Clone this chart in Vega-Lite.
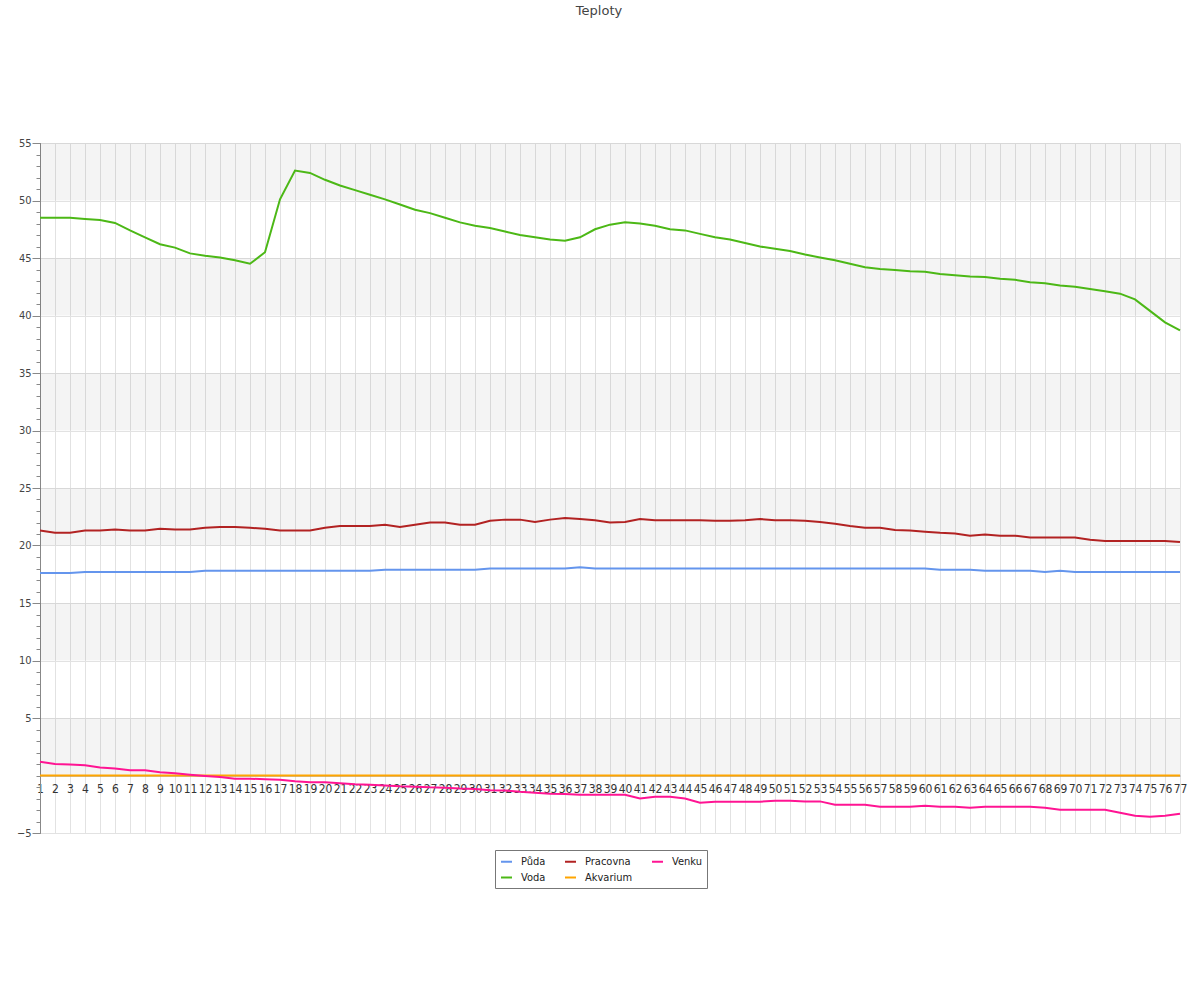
{
  "$schema": "https://vega.github.io/schema/vega-lite/v6.json",
  "width": 1140,
  "height": 690,
  "autosize": {"type": "none"},
  "padding": {"left": 40, "top": 143, "right": 20, "bottom": 167},
  "background": "white",
  "config": {
    "font": "DejaVu Sans",
    "view": {"stroke": null}
  },
  "title": {
    "text": "Teploty",
    "frame": "group",
    "anchor": "middle",
    "fontSize": 13,
    "fontWeight": "normal",
    "color": "#444",
    "offset": 119,
    "dx": -11
  },
  "datasets": {
    "bands": [
      {"lo": 0, "hi": 5},
      {"lo": 10, "hi": 15},
      {"lo": 20, "hi": 25},
      {"lo": 30, "hi": 35},
      {"lo": 40, "hi": 45},
      {"lo": 50, "hi": 55}
    ],
    "temps": [
      {"t": 1, "Půda": 17.6, "Voda": 48.5, "Pracovna": 21.3, "Akvarium": 0, "Venku": 1.2},
      {"t": 2, "Půda": 17.6, "Voda": 48.5, "Pracovna": 21.1, "Akvarium": 0, "Venku": 1.0},
      {"t": 3, "Půda": 17.6, "Voda": 48.5, "Pracovna": 21.1, "Akvarium": 0, "Venku": 0.95},
      {"t": 4, "Půda": 17.7, "Voda": 48.4, "Pracovna": 21.3, "Akvarium": 0, "Venku": 0.9},
      {"t": 5, "Půda": 17.7, "Voda": 48.3, "Pracovna": 21.3, "Akvarium": 0, "Venku": 0.7},
      {"t": 6, "Půda": 17.7, "Voda": 48.05, "Pracovna": 21.4, "Akvarium": 0, "Venku": 0.6},
      {"t": 7, "Půda": 17.7, "Voda": 47.4, "Pracovna": 21.3, "Akvarium": 0, "Venku": 0.45},
      {"t": 8, "Půda": 17.7, "Voda": 46.8, "Pracovna": 21.3, "Akvarium": 0, "Venku": 0.45},
      {"t": 9, "Půda": 17.7, "Voda": 46.2, "Pracovna": 21.45, "Akvarium": 0, "Venku": 0.28},
      {"t": 10, "Půda": 17.7, "Voda": 45.9, "Pracovna": 21.4, "Akvarium": 0, "Venku": 0.2},
      {"t": 11, "Půda": 17.7, "Voda": 45.4, "Pracovna": 21.4, "Akvarium": 0, "Venku": 0.07},
      {"t": 12, "Půda": 17.8, "Voda": 45.2, "Pracovna": 21.55, "Akvarium": 0, "Venku": -0.04},
      {"t": 13, "Půda": 17.8, "Voda": 45.05, "Pracovna": 21.6, "Akvarium": 0, "Venku": -0.13},
      {"t": 14, "Půda": 17.8, "Voda": 44.8, "Pracovna": 21.6, "Akvarium": 0, "Venku": -0.28},
      {"t": 15, "Půda": 17.8, "Voda": 44.5, "Pracovna": 21.55, "Akvarium": 0, "Venku": -0.28},
      {"t": 16, "Půda": 17.8, "Voda": 45.5, "Pracovna": 21.45, "Akvarium": 0, "Venku": -0.33},
      {"t": 17, "Půda": 17.8, "Voda": 50.1, "Pracovna": 21.3, "Akvarium": 0, "Venku": -0.36},
      {"t": 18, "Půda": 17.8, "Voda": 52.6, "Pracovna": 21.3, "Akvarium": 0, "Venku": -0.51},
      {"t": 19, "Půda": 17.8, "Voda": 52.4, "Pracovna": 21.3, "Akvarium": 0, "Venku": -0.59},
      {"t": 20, "Půda": 17.8, "Voda": 51.8, "Pracovna": 21.55, "Akvarium": 0, "Venku": -0.59},
      {"t": 21, "Půda": 17.8, "Voda": 51.3, "Pracovna": 21.7, "Akvarium": 0, "Venku": -0.68},
      {"t": 22, "Půda": 17.8, "Voda": 50.9, "Pracovna": 21.7, "Akvarium": 0, "Venku": -0.77},
      {"t": 23, "Půda": 17.8, "Voda": 50.5, "Pracovna": 21.7, "Akvarium": 0, "Venku": -0.8},
      {"t": 24, "Půda": 17.9, "Voda": 50.1, "Pracovna": 21.8, "Akvarium": 0, "Venku": -0.88},
      {"t": 25, "Půda": 17.9, "Voda": 49.65, "Pracovna": 21.6, "Akvarium": 0, "Venku": -0.94},
      {"t": 26, "Půda": 17.9, "Voda": 49.2, "Pracovna": 21.8, "Akvarium": 0, "Venku": -0.97},
      {"t": 27, "Půda": 17.9, "Voda": 48.9, "Pracovna": 22.0, "Akvarium": 0, "Venku": -1.03},
      {"t": 28, "Půda": 17.9, "Voda": 48.5, "Pracovna": 22.0, "Akvarium": 0, "Venku": -1.06},
      {"t": 29, "Půda": 17.9, "Voda": 48.1, "Pracovna": 21.8, "Akvarium": 0, "Venku": -1.14},
      {"t": 30, "Půda": 17.9, "Voda": 47.8, "Pracovna": 21.8, "Akvarium": 0, "Venku": -1.17},
      {"t": 31, "Půda": 18.0, "Voda": 47.6, "Pracovna": 22.15, "Akvarium": 0, "Venku": -1.29},
      {"t": 32, "Půda": 18.0, "Voda": 47.3, "Pracovna": 22.25, "Akvarium": 0, "Venku": -1.3},
      {"t": 33, "Půda": 18.0, "Voda": 47.0, "Pracovna": 22.25, "Akvarium": 0, "Venku": -1.41},
      {"t": 34, "Půda": 18.0, "Voda": 46.8, "Pracovna": 22.05, "Akvarium": 0, "Venku": -1.49},
      {"t": 35, "Půda": 18.0, "Voda": 46.6, "Pracovna": 22.25, "Akvarium": 0, "Venku": -1.58},
      {"t": 36, "Půda": 18.0, "Voda": 46.5, "Pracovna": 22.4, "Akvarium": 0, "Venku": -1.6},
      {"t": 37, "Půda": 18.1, "Voda": 46.8, "Pracovna": 22.3, "Akvarium": 0, "Venku": -1.67},
      {"t": 38, "Půda": 18.0, "Voda": 47.5, "Pracovna": 22.2, "Akvarium": 0, "Venku": -1.67},
      {"t": 39, "Půda": 18.0, "Voda": 47.9, "Pracovna": 22.0, "Akvarium": 0, "Venku": -1.67},
      {"t": 40, "Půda": 18.0, "Voda": 48.1, "Pracovna": 22.05, "Akvarium": 0, "Venku": -1.67},
      {"t": 41, "Půda": 18.0, "Voda": 48.0, "Pracovna": 22.3, "Akvarium": 0, "Venku": -2.0},
      {"t": 42, "Půda": 18.0, "Voda": 47.8, "Pracovna": 22.2, "Akvarium": 0, "Venku": -1.84},
      {"t": 43, "Půda": 18.0, "Voda": 47.5, "Pracovna": 22.2, "Akvarium": 0, "Venku": -1.84},
      {"t": 44, "Půda": 18.0, "Voda": 47.4, "Pracovna": 22.2, "Akvarium": 0, "Venku": -2.0},
      {"t": 45, "Půda": 18.0, "Voda": 47.1, "Pracovna": 22.2, "Akvarium": 0, "Venku": -2.36},
      {"t": 46, "Půda": 18.0, "Voda": 46.8, "Pracovna": 22.15, "Akvarium": 0, "Venku": -2.28},
      {"t": 47, "Půda": 18.0, "Voda": 46.6, "Pracovna": 22.15, "Akvarium": 0, "Venku": -2.28},
      {"t": 48, "Půda": 18.0, "Voda": 46.3, "Pracovna": 22.2, "Akvarium": 0, "Venku": -2.28},
      {"t": 49, "Půda": 18.0, "Voda": 46.0, "Pracovna": 22.3, "Akvarium": 0, "Venku": -2.28},
      {"t": 50, "Půda": 18.0, "Voda": 45.8, "Pracovna": 22.2, "Akvarium": 0, "Venku": -2.19},
      {"t": 51, "Půda": 18.0, "Voda": 45.6, "Pracovna": 22.2, "Akvarium": 0, "Venku": -2.19},
      {"t": 52, "Půda": 18.0, "Voda": 45.3, "Pracovna": 22.15, "Akvarium": 0, "Venku": -2.25},
      {"t": 53, "Půda": 18.0, "Voda": 45.05, "Pracovna": 22.05, "Akvarium": 0, "Venku": -2.25},
      {"t": 54, "Půda": 18.0, "Voda": 44.8, "Pracovna": 21.9, "Akvarium": 0, "Venku": -2.54},
      {"t": 55, "Půda": 18.0, "Voda": 44.5, "Pracovna": 21.7, "Akvarium": 0, "Venku": -2.54},
      {"t": 56, "Půda": 18.0, "Voda": 44.2, "Pracovna": 21.55, "Akvarium": 0, "Venku": -2.54},
      {"t": 57, "Půda": 18.0, "Voda": 44.05, "Pracovna": 21.55, "Akvarium": 0, "Venku": -2.71},
      {"t": 58, "Půda": 18.0, "Voda": 43.95, "Pracovna": 21.35, "Akvarium": 0, "Venku": -2.71},
      {"t": 59, "Půda": 18.0, "Voda": 43.85, "Pracovna": 21.3, "Akvarium": 0, "Venku": -2.71},
      {"t": 60, "Půda": 18.0, "Voda": 43.8, "Pracovna": 21.2, "Akvarium": 0, "Venku": -2.62},
      {"t": 61, "Půda": 17.9, "Voda": 43.6, "Pracovna": 21.1, "Akvarium": 0, "Venku": -2.71},
      {"t": 62, "Půda": 17.9, "Voda": 43.5, "Pracovna": 21.05, "Akvarium": 0, "Venku": -2.71},
      {"t": 63, "Půda": 17.9, "Voda": 43.4, "Pracovna": 20.85, "Akvarium": 0, "Venku": -2.8},
      {"t": 64, "Půda": 17.8, "Voda": 43.35, "Pracovna": 20.95, "Akvarium": 0, "Venku": -2.71},
      {"t": 65, "Půda": 17.8, "Voda": 43.2, "Pracovna": 20.85, "Akvarium": 0, "Venku": -2.71},
      {"t": 66, "Půda": 17.8, "Voda": 43.1, "Pracovna": 20.85, "Akvarium": 0, "Venku": -2.71},
      {"t": 67, "Půda": 17.8, "Voda": 42.9, "Pracovna": 20.7, "Akvarium": 0, "Venku": -2.71},
      {"t": 68, "Půda": 17.7, "Voda": 42.8, "Pracovna": 20.7, "Akvarium": 0, "Venku": -2.8},
      {"t": 69, "Půda": 17.8, "Voda": 42.6, "Pracovna": 20.7, "Akvarium": 0, "Venku": -2.97},
      {"t": 70, "Půda": 17.7, "Voda": 42.5, "Pracovna": 20.7, "Akvarium": 0, "Venku": -2.97},
      {"t": 71, "Půda": 17.7, "Voda": 42.3, "Pracovna": 20.5, "Akvarium": 0, "Venku": -2.97},
      {"t": 72, "Půda": 17.7, "Voda": 42.1, "Pracovna": 20.4, "Akvarium": 0, "Venku": -2.97},
      {"t": 73, "Půda": 17.7, "Voda": 41.9, "Pracovna": 20.4, "Akvarium": 0, "Venku": -3.23},
      {"t": 74, "Půda": 17.7, "Voda": 41.4, "Pracovna": 20.4, "Akvarium": 0, "Venku": -3.5},
      {"t": 75, "Půda": 17.7, "Voda": 40.4, "Pracovna": 20.4, "Akvarium": 0, "Venku": -3.58},
      {"t": 76, "Půda": 17.7, "Voda": 39.4, "Pracovna": 20.4, "Akvarium": 0, "Venku": -3.5},
      {"t": 77, "Půda": 17.7, "Voda": 38.7, "Pracovna": 20.3, "Akvarium": 0, "Venku": -3.32}
    ]
  },
  "layer": [
    {
      "data": {"name": "bands"},
      "mark": {"type": "rect", "fill": "#000000", "opacity": 0.045},
      "encoding": {
        "y": {
          "field": "lo",
          "type": "quantitative",
          "scale": {"domain": [-5, 55], "nice": false, "zero": false},
          "axis": {
            "orient": "left",
            "values": [-5,-4,-3,-2,-1,0,1,2,3,4,5,6,7,8,9,10,11,12,13,14,15,16,17,18,19,20,21,22,23,24,25,26,27,28,29,30,31,32,33,34,35,36,37,38,39,40,41,42,43,44,45,46,47,48,49,50,51,52,53,54,55],
            "labels": false,
            "grid": false,
            "ticks": true,
            "tickSize": 4,
            "tickColor": "#888",
            "domain": true,
            "domainColor": "#888",
            "title": null
          }
        },
        "y2": {"field": "hi"}
      }
    },
    {
      "data": {"name": "temps"},
      "transform": [
        {"fold": ["Půda", "Voda", "Pracovna", "Akvarium", "Venku"], "as": ["series", "value"]}
      ],
      "mark": {"type": "line", "strokeWidth": 2},
      "encoding": {
        "x": {
          "field": "t",
          "type": "ordinal",
          "scale": {"type": "point", "padding": 0},
          "axis": {
            "title": null,
            "labelAngle": 0,
            "labelOverlap": false,
            "labelFont": "DejaVu Sans Condensed",
            "labelFontSize": 12,
            "labelColor": "#333",
            "ticks": false,
            "tickSize": 0,
            "labelPadding": 8,
            "domainColor": "#888",
            "grid": true,
            "gridColor": "#e2e2e2",
            "offset": -57.5
          }
        },
        "y": {
          "field": "value",
          "type": "quantitative",
          "axis": {
            "orient": "left",
            "values": [-5, 5, 10, 15, 20, 25, 30, 35, 40, 45, 50, 55],
            "title": null,
            "grid": true,
            "gridColor": "#e2e2e2",
            "tickSize": 8,
            "tickColor": "#888",
            "domainColor": "#888",
            "labelFont": "DejaVu Sans Condensed",
            "labelFontSize": 11,
            "labelColor": "#444",
            "labelPadding": 1
          }
        },
        "color": {
          "field": "series",
          "type": "nominal",
          "scale": {
            "domain": ["Půda", "Pracovna", "Venku", "Voda", "Akvarium"],
            "range": ["#6495ED", "#B22222", "#FF1493", "#4CB816", "#FFA500"]
          },
          "legend": {
            "title": null,
            "orient": "none",
            "legendX": 455,
            "legendY": 707,
            "columns": 3,
            "direction": "horizontal",
            "symbolType": "stroke",
            "symbolSize": 121,
            "symbolStrokeWidth": 2,
            "labelFont": "DejaVu Sans Condensed",
            "labelFontSize": 11,
            "labelColor": "#222",
            "labelOffset": 8,
            "columnPadding": 15,
            "rowPadding": 4,
            "padding": 5,
            "strokeColor": "#777",
            "fillColor": "white"
          }
        }
      }
    }
  ],
  "resolve": {"axis": {"y": "independent"}}
}
